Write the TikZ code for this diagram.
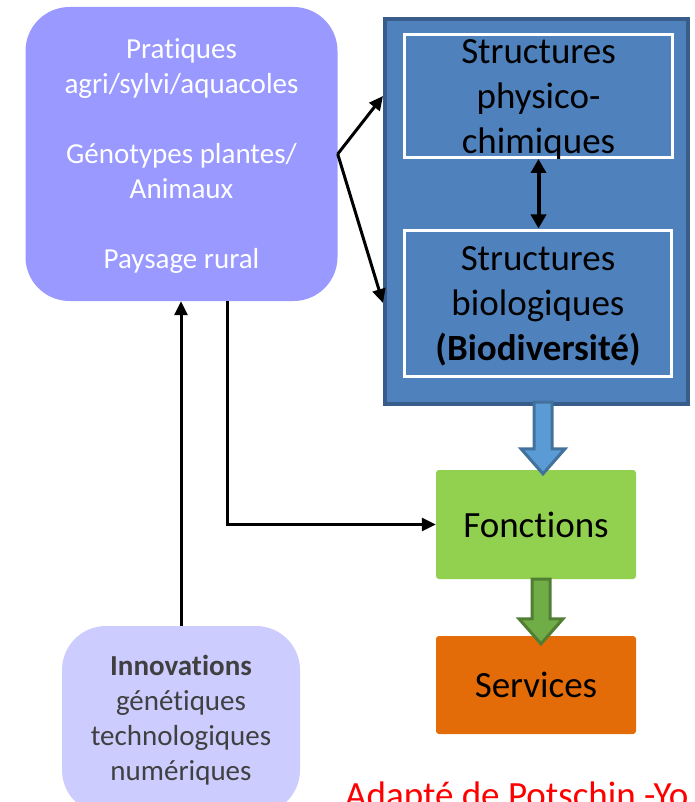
\documentclass[tikz,border=0pt]{standalone}
\usepackage{fontspec}
\setmainfont{Carlito}[Ligatures=NoCommon]
\usetikzlibrary{arrows.meta,calc}

\definecolor{pratcol}{HTML}{9999FF}
\definecolor{innocol}{HTML}{CCCCFF}
\definecolor{innotext}{HTML}{404040}
\definecolor{structfill}{HTML}{4F81BD}
\definecolor{structline}{HTML}{385D8A}
\definecolor{arrowblue}{HTML}{5B9BD5}
\definecolor{arrowblueline}{HTML}{41719C}
\definecolor{foncfill}{HTML}{92D050}
\definecolor{arrowgreen}{HTML}{70AD47}
\definecolor{arrowgreenline}{HTML}{507E32}
\definecolor{servfill}{HTML}{E36C09}

\tikzset{
  bigtext/.style={font=\fontsize{37}{45}\selectfont},
  smalltext/.style={font=\fontsize{29}{35}\selectfont},
  softbox/.style={rounded corners=44pt, inner sep=0pt, align=center, smalltext},
  structbox/.style={draw=white, line width=3pt, fill=structfill, inner sep=0pt, align=center, bigtext, text depth=0pt},
  flatbox/.style={fill=#1, rounded corners=3pt, inner sep=0pt, bigtext},
  conn/.style={line width=3pt, -{Triangle[length=14pt,width=13pt]}},
  dconn/.style={line width=4pt, {Triangle[length=14pt,width=15pt]}-{Triangle[length=14pt,width=15pt]}},
  blockblue/.style={fill=arrowblue, draw=arrowblueline, line width=3pt},
  blockgreen/.style={fill=arrowgreen, draw=arrowgreenline, line width=3pt}
}

% thick hollow arrow from #2 down to tip #3
\newcommand{\blockarrow}[3]{%
  \draw[#1] let \p1=(#2), \p2=(#3) in
    (\x1-9pt,\y1) -- (\x1-9pt,\y2+25pt) -- (\x1-22pt,\y2+25pt) -- (\x1,\y2)
    -- (\x1+22pt,\y2+25pt) -- (\x1+9pt,\y2+25pt) -- (\x1+9pt,\y1) -- cycle;}

\begin{document}
\begin{tikzpicture}[x=1pt, y=-1pt]
    \useasboundingbox (0,0) rectangle (694,802);
    \clip (0,0) rectangle (694,802);

    % ---- practices box ----
    \node[softbox, fill=pratcol, text=white, text depth=0pt, minimum width=312pt, minimum height=294pt] (prat)
        at (181.5,154) {Pratiques\\agri/sylvi/aquacoles\\[35pt]Génotypes plantes/\\Animaux\\[35pt]Paysage rural};

    % ---- structures (outer frame and two inner boxes) ----
    \node[draw=structline, line width=4pt, fill=structfill, inner sep=0pt,
          minimum width=303pt, minimum height=385pt] (struct) at (536.5,211.5) {};
    \node[structbox, minimum width=268pt, minimum height=123pt] (phys) at (538.5,96)
        {Structures\\physico-\\chimiques};
    \node[structbox, minimum width=267pt, minimum height=146pt] (bio) at (538,303)
        {Structures\\biologiques\\\textbf{(Biodiversité)}};

    % ---- functions and services ----
    \node[flatbox=foncfill, minimum width=200pt, minimum height=109pt] (fonc) at (536,524.5) {Fonctions};
    \node[flatbox=servfill, minimum width=200pt, minimum height=98pt] (serv) at (536,685) {Services};

    % ---- innovations box ----
    \node[softbox, fill=innocol, text=innotext, minimum width=238pt, minimum height=188pt] (inno)
        at (181,720) {\textbf{Innovations}\\génétiques\\technologiques\\numériques};

    % ---- source ----
    \node[bigtext, text=red, anchor=base west, inner sep=0pt] (source) at (345,807) {Adapté de Potschin -Yo};

    % ---- connectors ----
    \draw[conn] (inno.north) -- (inno.north |- prat.south);
    \draw[conn] ([xshift=46pt]prat.south) |- (fonc.west);
    \draw[conn] (prat.east) -- (struct.west |- phys.center);
    \draw[conn] (prat.east) -- (struct.west |- bio.center);
    \draw[dconn] (phys.south) -- (phys.south |- bio.north);

    % ---- block arrows ----
    \coordinate (ba1) at ([shift={(6.5,-4)}]struct.south);
    \coordinate (ba2) at ([shift={(6.5,4)}]fonc.north);
    \coordinate (ga1) at ([xshift=5pt]fonc.south);
    \coordinate (ga2) at ([shift={(5,8)}]serv.north);
    \blockarrow{blockblue}{ba1}{ba2}
    \blockarrow{blockgreen}{ga1}{ga2}
\end{tikzpicture}
\end{document}
